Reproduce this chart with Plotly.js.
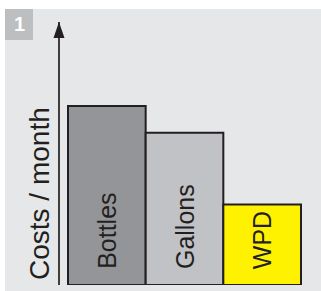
<!DOCTYPE html>
<html>
<head>
<meta charset="utf-8">
<script src="https://cdn.plot.ly/plotly-3.0.1.min.js"></script>
<style>html,body{margin:0;padding:0;background:#fff;}#chart{width:321px;height:291px;}</style>
</head>
<body>
<div id="chart"></div>
<script>
const categories = ["Bottles", "Gallons", "WPD"];
const costs = [100, 85, 45];
const barColors = ["#939598", "#c1c2c5", "#fff200"];
const yTitle = "Costs / month";
const badgeText = "<b>1</b>";

const FONT = "Liberation Sans, Arial, Helvetica, sans-serif";
const xs = categories.map((c, i) => i);

const trace = {
  type: "bar",
  x: xs,
  y: costs,
  marker: {color: barColors, line: {color: "#231f20", width: 2}},
  hoverinfo: "skip"
};

const labelAnn = categories.map((c, i) => ({
  x: i, y: 7.8, xref: "x", yref: "y",
  text: c, showarrow: false, textangle: -90,
  xanchor: "center", yanchor: "bottom",
  font: {family: FONT, size: 25, color: "#231f20"}
}));

const layout = {
  width: 321, height: 291,
  margin: {l: 60, r: 10, t: 22, b: 6, pad: 0},
  paper_bgcolor: "#ffffff",
  plot_bgcolor: "rgba(0,0,0,0)",
  bargap: 0,
  showlegend: false,
  xaxis: {range: [-0.603, 2.6288], visible: false, fixedrange: true},
  yaxis: {range: [0, 146.93], showgrid: false, zeroline: false, showticklabels: false,
          ticks: "", showline: true, linecolor: "#3f3f3f", linewidth: 2, fixedrange: true},
  shapes: [
    {type: "rect", xref: "paper", yref: "paper", x0: -0.2191, x1: 1.0398, y0: -0.0228, y1: 1.0494,
     fillcolor: "#e6e7e8", line: {width: 0}, layer: "below"},
    {type: "rect", xref: "paper", yref: "paper", x0: -0.2191, x1: -0.1076, y0: 0.9316, y1: 1.0494,
     fillcolor: "#bcbec0", line: {width: 0}, layer: "below"},
    {type: "path", xref: "paper", yref: "paper",
     path: "M -0.0259,0.9392 L -0.004,1 L 0.0179,0.9392 Z",
     fillcolor: "#231f20", line: {width: 0}, layer: "above"}
  ],
  annotations: labelAnn.concat([
    {x: -0.0837, y: 0.3498, xref: "paper", yref: "paper", text: yTitle, showarrow: false,
     textangle: -90, xanchor: "center", yanchor: "middle",
     font: {family: FONT, size: 28, color: "#231f20"}},
    {x: -0.1633, y: 0.9905, xref: "paper", yref: "paper", text: badgeText, showarrow: false,
     xanchor: "center", yanchor: "middle",
     font: {family: FONT, size: 20, color: "#ffffff"}}
  ])
};

Plotly.newPlot("chart", [trace], layout, {displayModeBar: false, staticPlot: true});
</script>
</body>
</html>
